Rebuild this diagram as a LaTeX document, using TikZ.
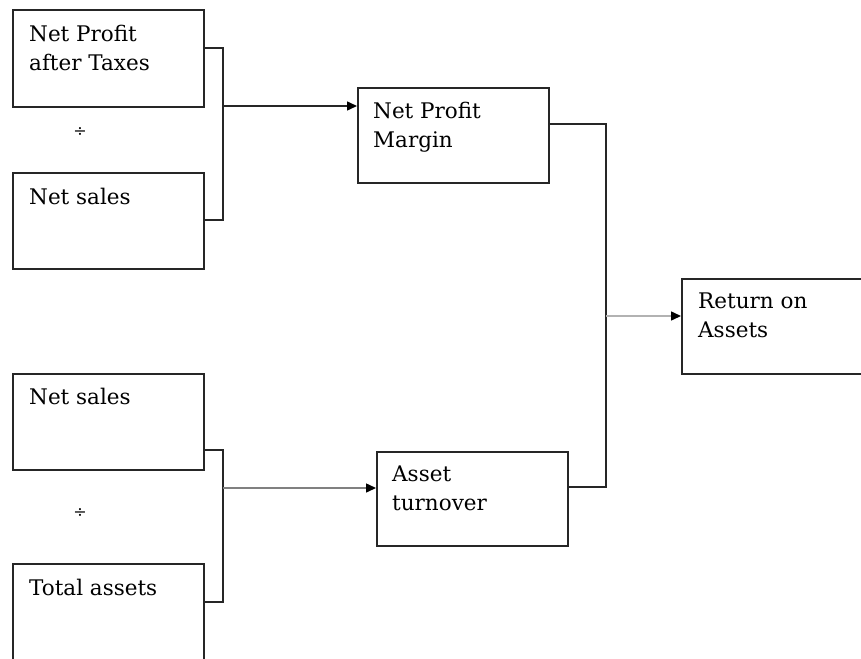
\documentclass[tikz,border=0pt]{standalone}
\usepackage{fontspec}
\setmainfont{DejaVu Serif}
\usetikzlibrary{arrows.meta,calc}
\begin{document}
\begin{tikzpicture}[x=1pt,y=-1pt,
 box/.style={draw=black!85,line width=1.7pt,rectangle,inner sep=0pt,anchor=north west},
 txt/.style={inner sep=0pt,anchor=base west,align=left,font=\fontsize{21.5}{29}\selectfont},
 divsign/.style={inner sep=0pt,font=\fontsize{16}{16}\selectfont},
 conn/.style={draw=black!85,line width=1.5pt},
 arr/.style={conn,-{Triangle[length=10pt,width=9pt,color=black]}}
]
\clip (0,0) rectangle (861,658);
\node[box,minimum width=191pt,minimum height=97pt] (b1) at (12,9) {};
\node[box,minimum width=191pt,minimum height=96pt] (b2) at (12,172) {};
\node[box,minimum width=191pt,minimum height=95pt] (b3) at (357,87) {};
\node[box,minimum width=200pt,minimum height=95pt] (b4) at (681,278) {};
\node[box,minimum width=191pt,minimum height=96pt] (b5) at (12,373) {};
\node[box,minimum width=191pt,minimum height=94pt] (b6) at (376,451) {};
\node[box,minimum width=191pt,minimum height=120pt] (b7) at (12,563) {};

\node[txt] (t1) at (29,71) {Net Profit\\after Taxes};
\node[txt] (t2) at (29,204) {Net sales};
\node[txt] (t3) at (373,147) {Net Profit\\Margin};
\node[txt] (t4) at (698,337) {Return on\\Assets};
\node[txt] (t5) at (29,404) {Net sales};
\node[txt] (t6) at (392,510) {Asset\\turnover};
\node[txt] (t7) at (29,595) {Total assets};

\node[divsign] (d1) at (80,132) {÷};
\node[divsign] (d2) at (80,513) {÷};

\coordinate (j1) at (223,106);
\coordinate (j2) at (223,488);
\coordinate (j3) at (606,316);

\draw[conn] (b1.east |- 0,48) -| (j1) |- (b2.east |- 0,220);
\draw[arr] (j1) -- (b3.west |- j1);
\draw[conn] (b5.east |- 0,450) -| (j2) |- (b7.east |- 0,602);
\draw[arr,draw=gray] (j2) -- (b6.west |- j2);
\draw[conn] (b3.east |- 0,124) -| (j3) |- (b6.east |- 0,487);
\draw[arr,draw=black!30] (j3) -- (b4.west |- j3);
\end{tikzpicture}
\end{document}
